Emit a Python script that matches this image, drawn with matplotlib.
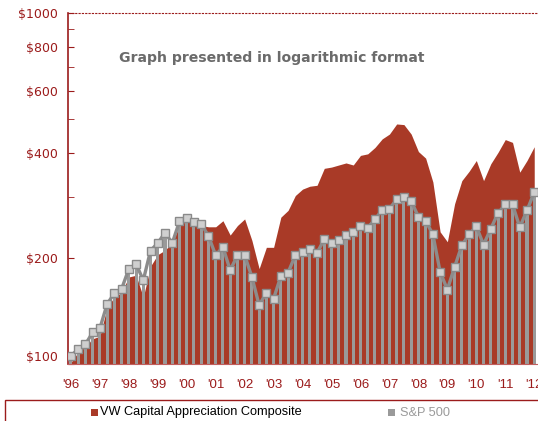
import matplotlib
matplotlib.use("Agg")
import matplotlib.pyplot as plt
import matplotlib.transforms as mtransforms
from matplotlib.patches import Rectangle
import numpy as np

# quarterly series, Q1 1996 .. Q1 2012 (index values, start ~ $100)
years = [1996 + i * 0.25 for i in range(65)]
vw_capital = [101, 108, 112, 118, 120, 145, 155, 160, 177, 179,
              155, 190, 205, 211, 222, 248, 256, 251, 248, 246,
              246, 256, 233, 248, 259, 225, 187, 215, 215, 262,
              274, 302, 315, 321, 323, 361, 364, 369, 374, 369,
              393, 397, 414, 438, 452, 483, 481, 452, 403, 386,
              330, 238, 223, 286, 333, 354, 380, 333, 372, 401,
              436, 428, 352, 380, 416]
sp500 = [105.6, 110.1, 113.7, 123.0, 126.3, 148.1, 159.1, 163.6, 186.5, 192.7,
         173.3, 210.4, 221.1, 236.7, 221.1, 254.9, 260.4, 253.7, 251.0, 231.5,
         204.0, 215.5, 184.9, 204.0, 204.0, 177.0, 147.1, 159.4, 153.6, 177.8,
         182.2, 204.0, 208.0, 212.2, 207.6, 226.5, 221.6, 225.0, 232.5, 237.6,
         247.8, 244.5, 258.2, 275.1, 276.9, 294.3, 300.1, 291.1, 262.8, 255.9,
         234.0, 182.9, 163.0, 189.0, 217.8, 234.0, 246.6, 218.8, 242.9, 269.1,
         284.8, 284.8, 245.5, 273.8, 308.7]

year_ticks = list(range(1996, 2013))
year_labels = ["'%02d" % (y % 100) for y in year_ticks]
y_major = [100, 200, 400, 600, 800, 1000]
y_minor = [300, 500, 700, 900]

RED = "#A93A27"
DARKRED = "#9B1B1B"
GRAY = "#9a9a9a"

fig = plt.figure(figsize=(5.38, 4.21), dpi=100)
ax = fig.add_axes([0.1264, 0.1354, 0.8736, 0.8336])

x = np.array(years)
vw = np.array(vw_capital)
sp = np.array(sp500)

ax.fill_between(x, 100, vw, color=RED, lw=0, zorder=1)
ax.bar(x, sp - 100, bottom=100, width=0.105, color=GRAY, lw=0, zorder=2)
ax.plot(x, sp, color="#8c8c8c", lw=2.4, zorder=3,
        marker="s", ms=6.3, mfc="#cfcfcf", mec="#8a8a8a", mew=1)

ax.set_yscale("log")
ax.set_ylim(100, 1000)
ax.set_xlim(1995.9, 2012.13)

ax.set_yticks(y_major)
ax.set_yticklabels(["$%d" % v for v in y_major])
ax.set_yticks(y_minor, minor=True)
ax.yaxis.set_minor_formatter(matplotlib.ticker.NullFormatter())
ax.tick_params(axis="y", which="both", direction="in", length=4,
               color=DARKRED, labelcolor=DARKRED, labelsize=9, pad=7)
for lab in ax.get_yticklabels():
    lab.set_family("DejaVu Sans")
# the $100 label sits a little above the axis line in the original
lift = mtransforms.ScaledTranslation(0, 6 / 72, fig.dpi_scale_trans)
first = ax.get_yticklabels()[0]
first.set_transform(first.get_transform() + lift)

ax.set_xticks(year_ticks)
ax.set_xticklabels(year_labels)
ax.tick_params(axis="x", length=0, labelcolor=DARKRED, labelsize=9.5, pad=11)
for lab in ax.get_xticklabels():
    lab.set_family("Liberation Sans")

for s in ("top", "right"):
    ax.spines[s].set_visible(False)
ax.spines["left"].set_color(DARKRED)
ax.spines["left"].set_linewidth(1.2)
ax.spines["bottom"].set_color("#c06060")
ax.spines["bottom"].set_linestyle((0, (2, 1)))
ax.spines["bottom"].set_linewidth(0.8)
ax.axhline(1000, color=DARKRED, lw=0.8, ls=(0, (2, 1)), clip_on=False)

fig.text(0.5046, 0.862, "Graph presented in logarithmic format",
         ha="center", va="center", fontsize=10.1, fontweight="bold",
         color="#6b6b6b", family="DejaVu Sans")

# legend strip at the bottom
fig.add_artist(Rectangle((5 / 538, -0.05), 1.0, 0.0999, transform=fig.transFigure,
                         fill=False, edgecolor=DARKRED, lw=1))
fig.add_artist(Rectangle((90.7 / 538, 1 - 415.7 / 421), 6.8 / 538, 6.8 / 421,
                         transform=fig.transFigure, color=RED, lw=0))
fig.text(100 / 538, 1 - 412.5 / 421, "VW Capital Appreciation Composite",
         ha="left", va="center", fontsize=9.2, color="black", family="Liberation Sans")
fig.add_artist(Rectangle((388 / 538, 1 - 415.7 / 421), 6.8 / 538, 6.8 / 421,
                         transform=fig.transFigure, color=GRAY, lw=0))
fig.text(400 / 538, 1 - 412.5 / 421, "S&P 500",
         ha="left", va="center", fontsize=9.2, color=GRAY, family="Liberation Sans")

fig.savefig("out.png", dpi=100)
